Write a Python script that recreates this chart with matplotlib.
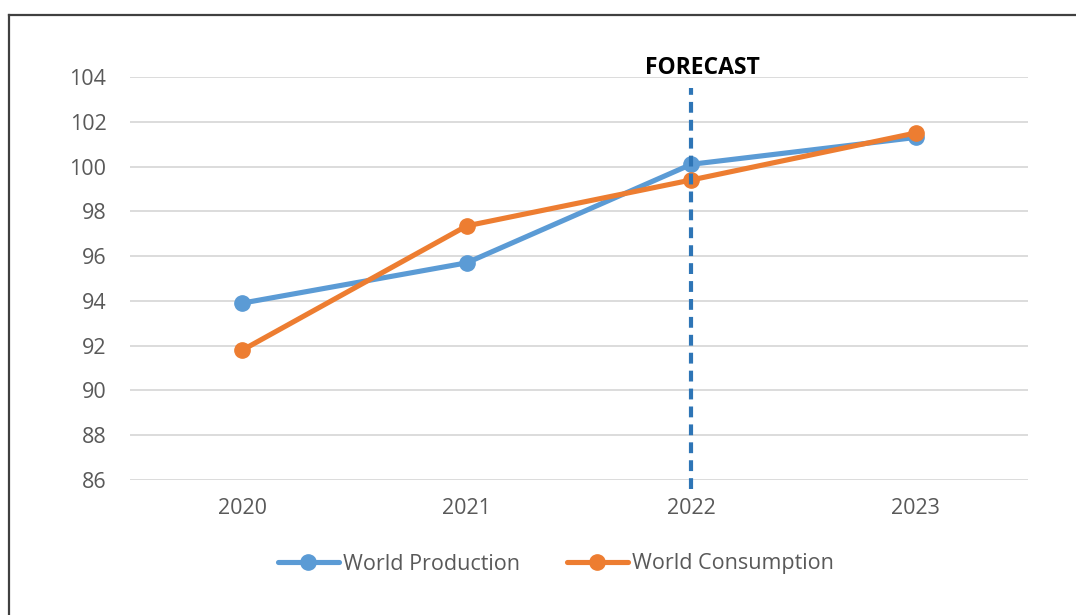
import matplotlib
matplotlib.use("Agg")
import matplotlib.pyplot as plt
from matplotlib.lines import Line2D

years = ["2020", "2021", "2022", "2023"]
production = [93.9, 95.7, 100.1, 101.3]
consumption = [91.8, 97.35, 99.4, 101.5]
yticks = [86, 88, 90, 92, 94, 96, 98, 100, 102, 104]
forecast_year = "2022"
forecast_label = "FORECAST"

plt.rcParams['font.family'] = ['Open Sans', 'DejaVu Sans']

W, H = 1076, 615
fig = plt.figure(figsize=(W / 100, H / 100), dpi=100)
ax = fig.add_axes([130 / W, 1 - 480 / H, (1028 - 130) / W, (480 - 77) / H])

blue = "#5B9BD5"
orange = "#ED7D31"
x = [i + 0.5 for i in range(len(years))]

ax.plot(x, production, color=blue, lw=3.7, marker="o", ms=11,
        solid_capstyle="round", label="World Production", zorder=3)
ax.plot(x, consumption, color=orange, lw=3.7, marker="o", ms=11,
        solid_capstyle="round", label="World Consumption", zorder=4)

ax.set_xlim(0, len(years))
ax.set_ylim(86, 104)
ax.set_yticks(yticks)
ax.set_yticklabels([str(v) for v in yticks])
ax.set_xticks(x)
ax.set_xticklabels(years)
ax.yaxis.grid(True, color="#D9D9D9", lw=1.3)
ax.set_axisbelow(True)
for s in ax.spines.values():
    s.set_visible(False)
ax.tick_params(length=0, labelsize=15.5, colors="#595959")
ax.tick_params(axis="y", pad=17)
ax.tick_params(axis="x", pad=13)

fx = years.index(forecast_year) + 0.5
ax.plot([fx, fx], [86 - 0.4, 104 - 0.5], color="#2E75B6", lw=3.0,
        ls=(0, (2.6, 1.7)), zorder=5, clip_on=False)
ax.text(fx + 0.05, 104.12, forecast_label, ha="center", va="baseline",
        fontsize=16.5, fontweight="bold", color="black")

leg = fig.legend(handles=ax.get_lines()[:2], loc="center",
                 bbox_to_anchor=(556 / W, 1 - 564 / H), ncol=2, frameon=False,
                 fontsize=15.5, handlelength=2.8, handletextpad=0.2,
                 columnspacing=2.2, labelcolor="#595959")

fig.add_artist(Line2D([9 / W, 9 / W], [0, 1 - 15 / H], color="#404040", lw=1.6))
fig.add_artist(Line2D([9 / W, 1], [1 - 15 / H, 1 - 15 / H], color="#404040", lw=1.6))

fig.savefig("out.png", dpi=100)
